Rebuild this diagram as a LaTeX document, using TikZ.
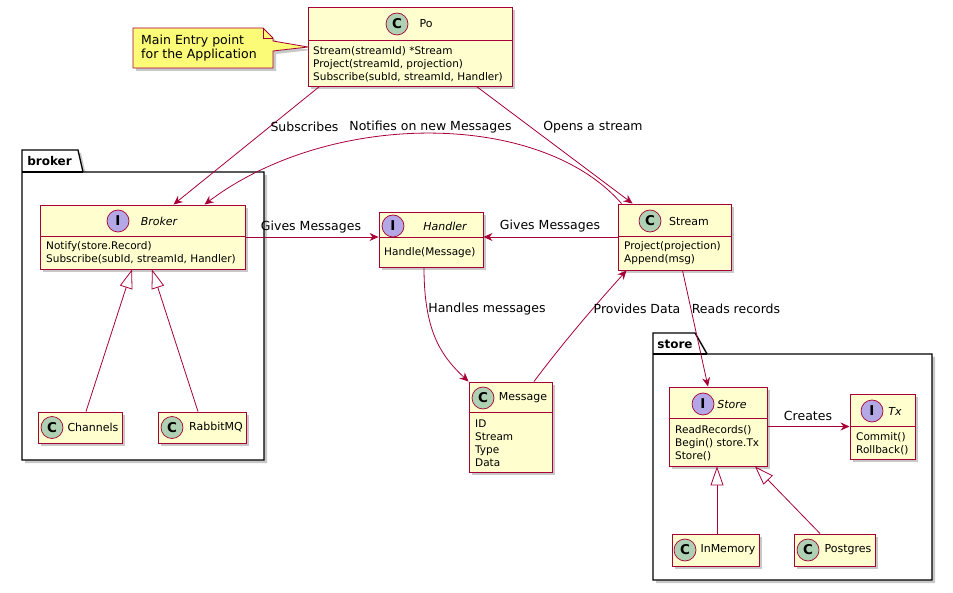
\documentclass[tikz,border=0pt]{standalone}
\usepackage{fontspec}
\setmainfont{DejaVu Sans}
\usetikzlibrary{arrows.meta,shadows,calc}
\definecolor{umlred}{HTML}{A80036}
\definecolor{umlfill}{HTML}{FEFECE}
\definecolor{circc}{HTML}{ADD1B2}
\definecolor{circi}{HTML}{B4A7E5}
\definecolor{notefill}{HTML}{FBFB77}
\tikzset{
  shad/.style={drop shadow={shadow xshift=3pt,shadow yshift=-3pt,opacity=0.3,fill=black!70}},
  cls/.style={draw=umlred,fill=umlfill,line width=0.95pt,inner sep=0pt,shad},
  sepline/.style={draw=umlred,line width=0.8pt},
  circ/.style={circle,draw=umlred,line width=0.7pt,minimum size=22pt,inner sep=0pt,font=\bfseries\fontsize{13.5}{13.5}\selectfont},
  ccirc/.style={circ,fill=circc},
  icirc/.style={circ,fill=circi},
  ttl/.style={inner sep=0pt,font=\fontsize{11}{13}\selectfont},
  ittl/.style={inner sep=0pt,font=\itshape\fontsize{11}{13}\selectfont},
  mem/.style={inner sep=0pt,anchor=west,align=left,font=\fontsize{10.5}{13}\selectfont},
  lbl/.style={inner sep=0pt,font=\fontsize{12.5}{14}\selectfont},
  pkg/.style={draw=black,fill=white,line width=1.3pt,shad},
  pkgname/.style={inner sep=0pt,font=\bfseries\fontsize{12}{14}\selectfont},
  arr/.style={draw=umlred,line width=0.8pt,-{Stealth[length=9pt,width=8pt,inset=3pt]}},
  inh/.style={draw=umlred,line width=0.8pt,-{Triangle[open,length=19pt,width=13pt,fill=white]}},
}
\begin{document}
\begin{tikzpicture}[x=1pt,y=-1pt]
\useasboundingbox (0,0) rectangle (953,593);
\fill[white] (0,0) rectangle (953,593);

% packages
\path[pkg] (22,172) -- (22,150) -- (78,150) -- (83,172) -- (264,172) -- (264,460) -- (22,460) -- cycle;
\draw[line width=1.3pt] (22,172) -- (83,172);
\node[pkgname] (brokerpkg) at (49.5,161) {broker};
\path[pkg] (653,354) -- (653,333) -- (695,333) -- (707,354) -- (932,354) -- (932,580) -- (653,580) -- cycle;
\draw[line width=1.3pt] (653,354) -- (707,354);
\node[pkgname] (storepkg) at (675,344) {store};

% note
\path[draw=umlred,fill=notefill,line width=0.8pt,shad] (133,28) -- (263,28) -- (273,38) -- (273,41) -- (308,47) -- (273,51) -- (273,68) -- (133,68) -- cycle;
\draw[umlred,line width=0.8pt] (263,28) -- (263,38) -- (273,38);
\node[inner sep=0pt,anchor=west,align=left,font=\fontsize{12.5}{14}\selectfont] (note) at (141,48) {Main Entry point\\for the Application};

% Po
\node[cls,minimum width=204pt,minimum height=79pt] (po) at (410,46.5) {};
\draw[sepline] ([yshift=-34pt]po.north west) -- ([yshift=-34pt]po.north east);
\node[ccirc] (poc) at (397,24) {C};
\node[ttl] (pot) at (426,24) {Po};
\node[mem] (pom) at (313,64.5) {Stream(streamId) *Stream\\Project(streamId, projection)\\Subscribe(subId, streamId, Handler)};

% Broker
\node[cls,minimum width=205pt,minimum height=64pt] (broker) at (142.5,237) {};
\draw[sepline] ([yshift=-32pt]broker.north west) -- ([yshift=-32pt]broker.north east);
\node[icirc] (brokerc) at (118,221) {I};
\node[ittl] (brokert) at (159,221) {Broker};
\node[mem] (brokerm) at (46,253) {Notify(store.Record)\\Subscribe(subId, streamId, Handler)};

% Handler
\node[cls,minimum width=104pt,minimum height=55pt] (handler) at (431,239.5) {};
\draw[sepline] ([yshift=-26pt]handler.north west) -- ([yshift=-26pt]handler.north east);
\node[icirc] (handlerc) at (393,226) {I};
\node[ittl] (handlert) at (445,226) {Handler};
\node[mem] (handlerm) at (384,253) {Handle(Message)};

% Stream
\node[cls,minimum width=113pt,minimum height=66pt] (stream) at (674.5,237) {};
\draw[sepline] ([yshift=-33pt]stream.north west) -- ([yshift=-33pt]stream.north east);
\node[ccirc] (streamc) at (650,221) {C};
\node[ttl] (streamt) at (689,221) {Stream};
\node[mem] (streamm) at (624,253.5) {Project(projection)\\Append(msg)};

% Message
\node[cls,minimum width=83pt,minimum height=90pt] (message) at (510.5,427) {};
\draw[sepline] ([yshift=-31pt]message.north west) -- ([yshift=-31pt]message.north east);
\node[ccirc] (messagec) at (483,398) {C};
\node[ttl] (messaget) at (523,398) {Message};
\node[mem] (messagem) at (475,443.5) {ID\\Stream\\Type\\Data};

% Store
\node[cls,minimum width=98pt,minimum height=79pt] (store) at (718,426.5) {};
\draw[sepline] ([yshift=-32pt]store.north west) -- ([yshift=-32pt]store.north east);
\node[icirc] (storec) at (703,404) {I};
\node[ittl] (storet) at (732,404) {Store};
\node[mem] (storem) at (675,443.5) {ReadRecords()\\Begin() store.Tx\\Store()};

% Tx
\node[cls,minimum width=65pt,minimum height=65pt] (tx) at (882.5,426.5) {};
\draw[sepline] ([yshift=-33pt]tx.north west) -- ([yshift=-33pt]tx.north east);
\node[icirc] (txc) at (872,411) {I};
\node[ittl] (txt) at (895,411) {Tx};
\node[mem] (txm) at (856,443.5) {Commit()\\Rollback()};

% Channels, RabbitMQ
\node[cls,minimum width=84pt,minimum height=31pt] (channels) at (80,427.5) {};
\node[ccirc] (channelsc) at (52,427.5) {C};
\node[ttl] (channelst) at (93,427.5) {Channels};
\node[cls,minimum width=88pt,minimum height=31pt] (rabbit) at (202,427.5) {};
\node[ccirc] (rabbitc) at (172,427.5) {C};
\node[ttl] (rabbitt) at (216,427.5) {RabbitMQ};

% InMemory, Postgres
\node[cls,minimum width=87pt,minimum height=32pt] (inmem) at (715.5,550) {};
\node[ccirc] (inmemc) at (685,550) {C};
\node[ttl] (inmemt) at (728,550) {InMemory};
\node[cls,minimum width=81pt,minimum height=32pt] (postgres) at (834.5,550) {};
\node[ccirc] (postgresc) at (808,550) {C};
\node[ttl] (postgrest) at (848,550) {Postgres};

% connectors
\draw[arr] ([xshift=12pt]po.south west) -- ([xshift=134pt]broker.north west);
\draw[arr] ([xshift=4pt]stream.north west) .. controls (540,110) and (330,110) .. ([xshift=165pt]broker.north west);
\draw[arr] ([xshift=169pt]po.south west) -- ([xshift=15pt]stream.north west);
\draw[arr] (broker.east) -- (broker.east -| handler.west);
\draw[arr] (stream.west) -- (stream.west -| handler.east);
\draw[arr] ([xshift=-7pt]handler.south) .. controls (424,330) and (440,355) .. (message.north west);
\draw[arr] ([xshift=23.5pt]message.north) .. controls (565,340) and (600,300) .. ([xshift=9pt]stream.south west);
\draw[arr] ([xshift=8pt]stream.south) -- ([xshift=-10pt]store.north);
\draw[arr] (store.east) -- (tx.west);
\draw[inh] ([xshift=6pt]channels.north) -- ([xshift=-10.5pt]broker.south);
\draw[inh] ([xshift=-4pt]rabbit.north) -- ([xshift=9.5pt]broker.south);
\draw[inh] ([xshift=1.5pt]inmem.north) -- ([xshift=1.5pt]inmem.north |- store.south);
\draw[inh] ([xshift=-14.5pt]postgres.north) -- ([xshift=37pt]store.south);

% labels
\node[lbl] (l1) at (304.5,127) {Subscribes};
\node[lbl] (l2) at (430.5,127) {Notifies on new Messages};
\node[lbl] (l3) at (593,127) {Opens a stream};
\node[lbl] (l4) at (311,227) {Gives Messages};
\node[lbl] (l5) at (550,226) {Gives Messages};
\node[lbl] (l6) at (487,309) {Handles messages};
\node[lbl] (l7) at (637,309) {Provides Data};
\node[lbl] (l8) at (736,309) {Reads records};
\node[lbl] (l9) at (808,416) {Creates};
\end{tikzpicture}
\end{document}
